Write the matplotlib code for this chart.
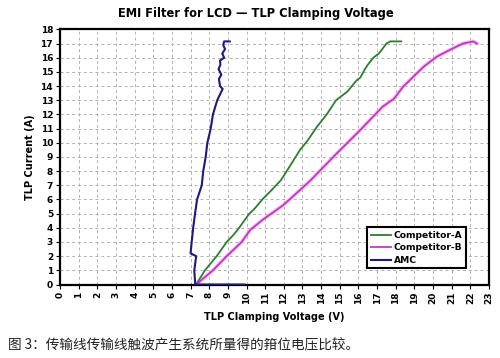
import matplotlib
matplotlib.use("Agg")
import matplotlib.pyplot as plt

# Data
amc_v = [9.9, 7.25, 7.2, 7.3, 7.0, 7.06, 7.14, 7.24, 7.35, 7.6, 7.68, 7.81, 7.9, 8.08, 8.2, 8.43,
         8.72, 8.58, 8.52, 8.65, 8.5, 8.6, 8.58, 8.8, 8.7, 8.85, 8.75, 8.8, 9.1]
amc_i = [0.0, 0.0, 1.0, 2.0, 2.2, 3.0, 4.0, 5.0, 6.0, 7.0, 8.0, 9.0, 10.0, 11.0, 12.0, 13.0,
         13.8, 14.0, 14.5, 14.8, 15.2, 15.5, 15.8, 16.0, 16.3, 16.6, 16.9, 17.15, 17.15]

compa_v = [7.3, 7.77, 8.4, 8.94, 9.3, 9.55, 10.15, 10.4, 10.9, 11.3, 11.85, 12.3, 12.87, 13.3,
           13.76, 14.3, 14.8, 15.4, 15.9, 16.1, 16.35, 16.5, 16.8, 17.1, 17.5, 17.7, 18.3]
compa_i = [0.0, 1.0, 2.0, 3.0, 3.5, 3.9, 5.0, 5.3, 6.08, 6.6, 7.37, 8.3, 9.5, 10.2,
           11.1, 12.0, 13.0, 13.6, 14.4, 14.6, 15.2, 15.5, 16.0, 16.3, 17.0, 17.15, 17.15]

compb_v = [7.3, 8.2, 8.94, 9.74, 10.2, 10.9, 11.97, 12.87, 13.45, 14.65, 16.1, 17.3, 17.9,
           18.4, 19.5, 20.2, 20.9, 21.6, 22.16, 22.35]
compb_i = [0.0, 1.0, 2.0, 3.0, 3.85, 4.6, 5.6, 6.67, 7.37, 9.0, 10.9, 12.55, 13.1,
           13.96, 15.37, 16.07, 16.55, 17.0, 17.15, 17.0]

x_ticks = list(range(0, 24))
y_ticks = list(range(0, 19))

title = "EMI Filter for LCD \u2014 TLP Clamping Voltage"
xlabel = "TLP Clamping Voltage (V)"
ylabel = "TLP Current (A)"
caption = "图 3：传输线传输线触波产生系统所量得的箝位电压比较。"

fig = plt.figure(figsize=(5.0, 3.58), dpi=100)
ax = fig.add_axes([0.12, 0.2053, 0.858, 0.7127])

ax.plot(compa_v, compa_i, color="#2e7d2e", lw=1.3, label="Competitor-A", zorder=3)
ax.plot(compb_v, compb_i, color="#f0a8f0", lw=3.0, alpha=0.6, zorder=2)
ax.plot(compb_v, compb_i, color="#c036c0", lw=1.3, label="Competitor-B", zorder=3)
ax.plot(amc_v, amc_i, color="#1a1a80", lw=1.5, label="AMC", zorder=4)

ax.set_xlim(0, 23)
ax.set_ylim(0, 18)
ax.set_xticks(x_ticks)
ax.set_yticks(y_ticks)
ax.set_xticklabels([str(t) for t in x_ticks], rotation=90, fontsize=6.5, fontweight="bold")
ax.set_yticklabels([str(t) for t in y_ticks], fontsize=6.5, fontweight="bold")
ax.tick_params(axis="both", length=3, width=0.8, pad=2)
ax.grid(True, color="#b0b0b0", linestyle=(0, (3, 3)), lw=0.7)
ax.set_axisbelow(True)
for s in ax.spines.values():
    s.set_linewidth(1.6)
    s.set_color("black")

ax.set_xlabel(xlabel, fontsize=7, fontweight="bold", labelpad=6)
ax.set_ylabel(ylabel, fontsize=7, fontweight="bold", labelpad=4)
fig.text(0.511, 0.962, title, ha="center", va="center", fontsize=8.3, fontweight="bold")

leg = ax.legend(loc="lower right", bbox_to_anchor=(0.958, 0.045),
                prop={"weight": "bold", "size": 6.6}, frameon=True, fancybox=False,
                handlelength=2.2, handletextpad=0.3, borderpad=0.4, labelspacing=0.38)
leg.get_frame().set_edgecolor("black")
leg.get_frame().set_linewidth(1.5)
leg.get_frame().set_alpha(1.0)

fig.text(0.016, 0.036, caption, ha="left", va="center", fontsize=9.8,
         family=["Noto Sans CJK SC", "DejaVu Sans"], color="#222222")

fig.savefig("out.png", dpi=100)
